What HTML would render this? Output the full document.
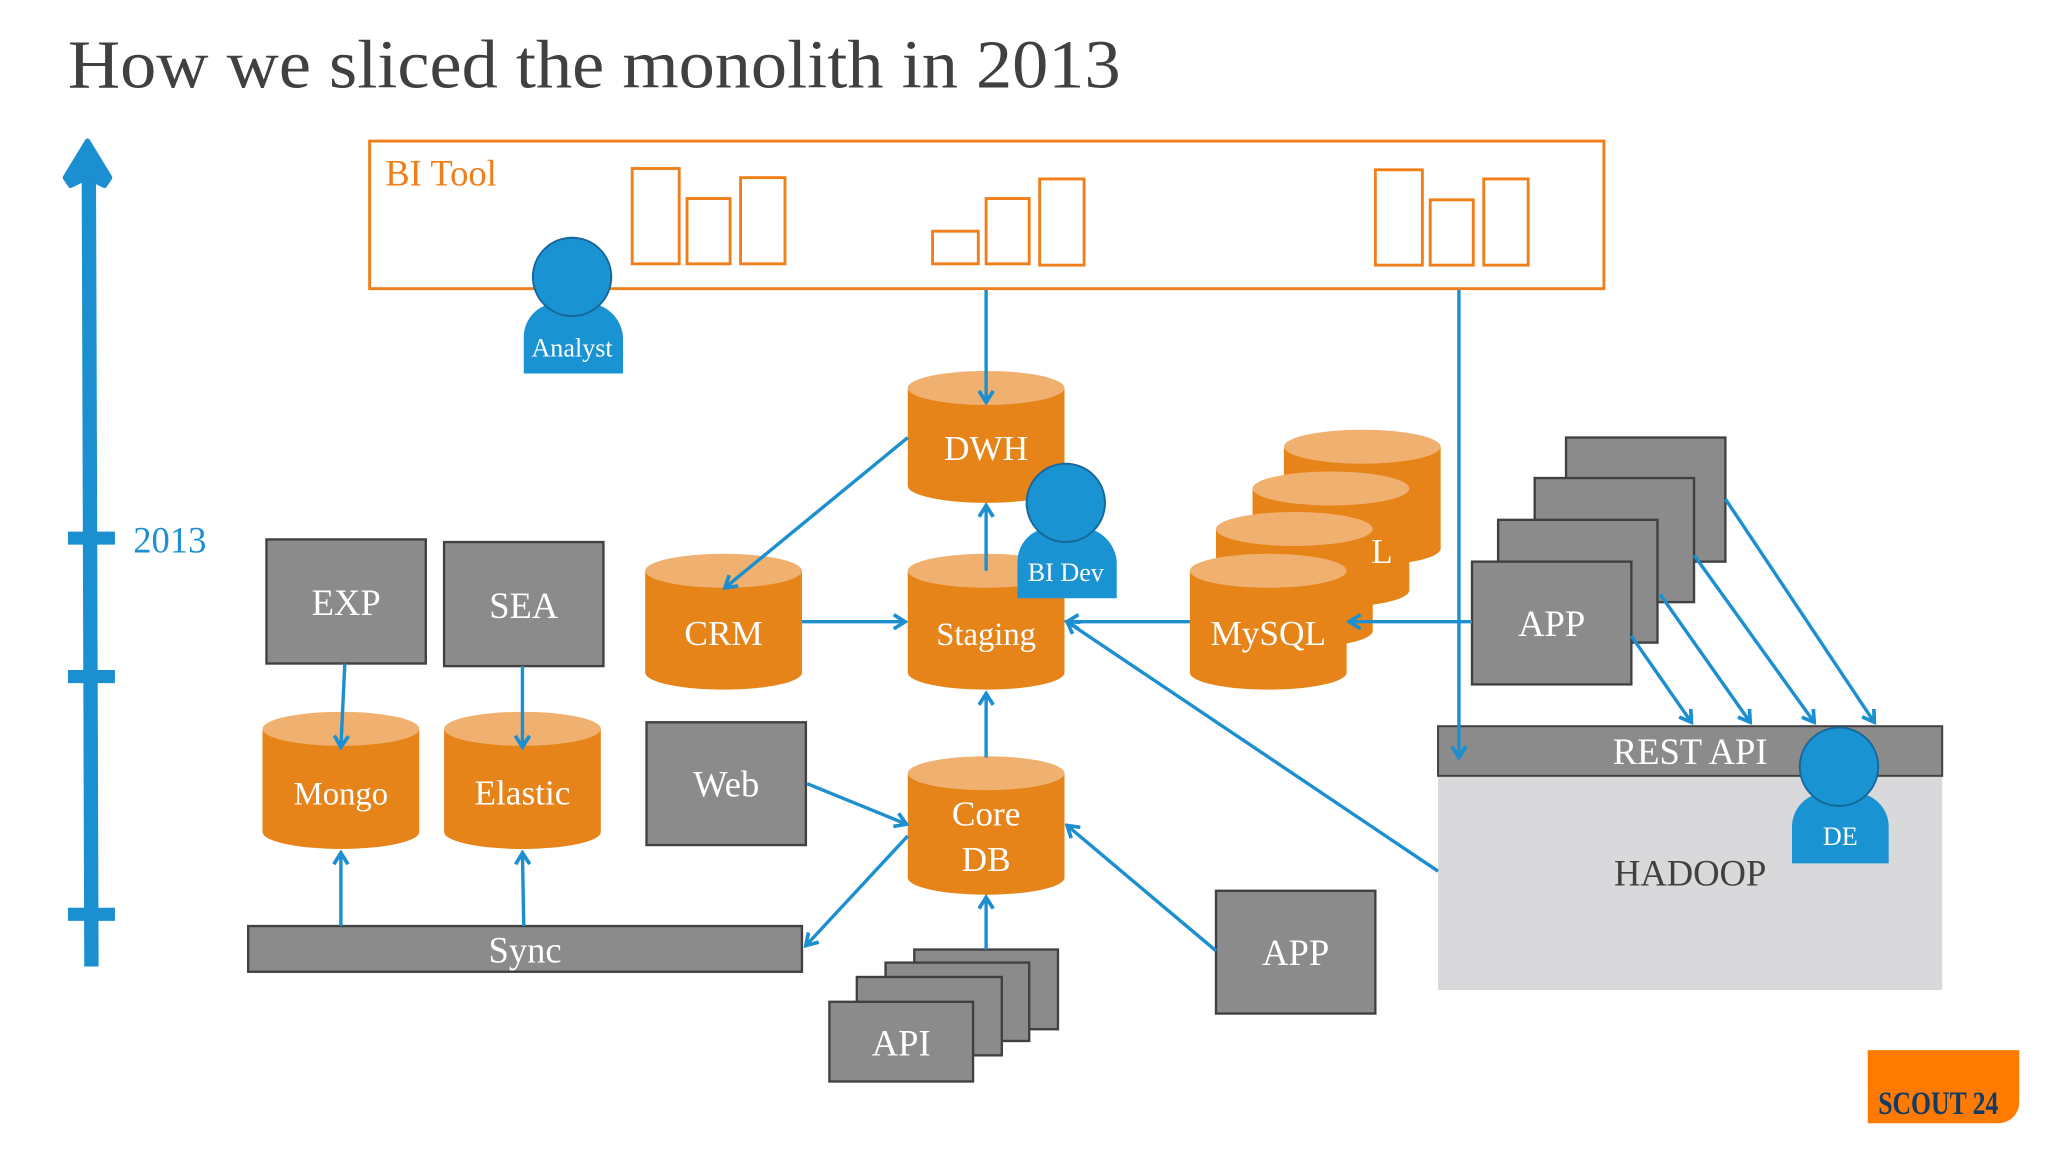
<!DOCTYPE html>
<html><head><meta charset="utf-8"><style>
html,body{margin:0;padding:0;background:#fff;}
svg{display:block;}
text{font-family:"Liberation Serif",serif;}
</style></head><body>
<svg width="2048" height="1152" viewBox="0 0 1568 882" xmlns="http://www.w3.org/2000/svg">
<defs>
<marker id="a" viewBox="0 0 12 12" refX="10" refY="6" markerWidth="5" markerHeight="5" markerUnits="strokeWidth" orient="auto">
<polyline points="2,1 10,6 2,11" fill="none" stroke="#1B8FD0" stroke-width="2.6"/>
</marker>
</defs>
<rect width="1568" height="882" fill="#fff"/>
<text x="52" y="67" font-size="53" fill="#404040" textLength="806" lengthAdjust="spacingAndGlyphs">How we sliced the monolith in 2013</text>

<!-- timeline -->
<g fill="#1B8FD0" stroke="#1B8FD0">
<line x1="68" y1="125" x2="70" y2="740" stroke-width="11"/>
<polygon points="67,108 84,136 80,142 72,138 62,138 54,142 50,136" stroke-width="4" stroke-linejoin="round"/>
<line x1="52" y1="412" x2="88" y2="412" stroke-width="10"/>
<line x1="52" y1="518" x2="88" y2="518" stroke-width="10"/>
<line x1="52" y1="700" x2="88" y2="700" stroke-width="10"/>
</g>
<text x="102" y="423" font-size="28" fill="#1B8FD0">2013</text>

<!-- BI Tool -->
<g fill="none" stroke="#F07F1A" stroke-width="2.2">
<rect x="283" y="108" width="945" height="113"/>
<rect x="484" y="129" width="36" height="73"/><rect x="526" y="152" width="33" height="50"/><rect x="567" y="136" width="34" height="66"/>
<rect x="714" y="177" width="35" height="25"/><rect x="755" y="152" width="33" height="50"/><rect x="796" y="137" width="34" height="66"/>
<rect x="1053" y="130" width="36" height="73"/><rect x="1095" y="153" width="33" height="50"/><rect x="1136" y="137" width="34" height="66"/>
</g>
<text x="295" y="142" font-size="28" fill="#F07F1A">BI Tool</text>

<!-- HADOOP -->
<rect x="1101" y="556" width="386" height="202" fill="#D9D8DA"/>
<rect x="1101" y="556" width="386" height="38" fill="#8C8B8C" stroke="#404040" stroke-width="1.5"/>
<text x="1294" y="585" font-size="28" fill="#fff" text-anchor="middle">REST API</text>
<text x="1294" y="678" font-size="28" fill="#404040" text-anchor="middle">HADOOP</text>

<!-- cylinders -->
<g font-size="27" fill="#fff" text-anchor="middle">
<g>
<path d="M983,342 v78 a60,13 0 0 0 120,0 v-78z" fill="#E6841A"/><ellipse cx="1043" cy="342" rx="60" ry="13" fill="#F0B170"/>
<path d="M959,374 v78 a60,13 0 0 0 120,0 v-78z" fill="#E6841A"/><ellipse cx="1019" cy="374" rx="60" ry="13" fill="#F0B170"/>
<path d="M931,405 v78 a60,13 0 0 0 120,0 v-78z" fill="#E6841A"/><ellipse cx="991" cy="405" rx="60" ry="13" fill="#F0B170"/>
<text x="1058" y="431">L</text>
<path d="M911,437 v78 a60,13 0 0 0 120,0 v-78z" fill="#E6841A"/><ellipse cx="971" cy="437" rx="60" ry="13" fill="#F0B170"/>
<text x="971" y="494">MySQL</text>
</g>
<path d="M695,297 v75 a60,13 0 0 0 120,0 v-75z" fill="#E6841A"/><ellipse cx="755" cy="297" rx="60" ry="13" fill="#F0B170"/><text x="755" y="352">DWH</text>
<path d="M494,437 v78 a60,13 0 0 0 120,0 v-78z" fill="#E6841A"/><ellipse cx="554" cy="437" rx="60" ry="13" fill="#F0B170"/><text x="554" y="494">CRM</text>
<path d="M695,437 v78 a60,13 0 0 0 120,0 v-78z" fill="#E6841A"/><ellipse cx="755" cy="437" rx="60" ry="13" fill="#F0B170"/><text x="755" y="494" font-size="25">Staging</text>
<path d="M201,558 v79 a60,13 0 0 0 120,0 v-79z" fill="#E6841A"/><ellipse cx="261" cy="558" rx="60" ry="13" fill="#F0B170"/><text x="261" y="616" font-size="25">Mongo</text>
<path d="M340,558 v79 a60,13 0 0 0 120,0 v-79z" fill="#E6841A"/><ellipse cx="400" cy="558" rx="60" ry="13" fill="#F0B170"/><text x="400" y="616">Elastic</text>
<path d="M695,592 v80 a60,13 0 0 0 120,0 v-80z" fill="#E6841A"/><ellipse cx="755" cy="592" rx="60" ry="13" fill="#F0B170"/><text x="755" y="632">Core</text><text x="755" y="667">DB</text>
</g>

<!-- gray boxes -->
<g fill="#8C8B8C" stroke="#404040" stroke-width="1.8">
<rect x="204" y="413" width="122" height="95"/>
<rect x="340" y="415" width="122" height="95"/>
<rect x="495" y="553" width="122" height="94"/>
<rect x="931" y="682" width="122" height="94"/>
<rect x="190" y="709" width="424" height="35"/>
<rect x="700" y="727" width="110" height="61"/>
<rect x="678" y="737" width="110" height="60"/>
<rect x="656" y="748" width="111" height="60"/>
<rect x="635" y="767" width="110" height="61"/>
<rect x="1199" y="335" width="122" height="95"/>
<rect x="1175" y="366" width="122" height="95"/>
<rect x="1147" y="398" width="122" height="94"/>
<rect x="1127" y="430" width="122" height="94"/>
</g>
<g font-size="28" fill="#fff" text-anchor="middle">
<text x="265" y="471">EXP</text>
<text x="401" y="473">SEA</text>
<text x="556" y="610">Web</text>
<text x="992" y="739">APP</text>
<text x="402" y="737">Sync</text>
<text x="690" y="808">API</text>
<text x="1188" y="487">APP</text>
</g>

<!-- arrows -->
<g stroke="#1B8FD0" stroke-width="2.6" fill="none" marker-end="url(#a)">
<line x1="755" y1="222" x2="755" y2="308"/>
<line x1="1117" y1="222" x2="1117" y2="580"/>
<line x1="695" y1="335" x2="555" y2="450"/>
<line x1="614" y1="476" x2="693" y2="476"/>
<line x1="755" y1="437" x2="755" y2="387"/>
<line x1="755" y1="580" x2="755" y2="531"/>
<line x1="911" y1="476" x2="817" y2="476"/>
<line x1="1127" y1="476" x2="1033" y2="476"/>
<line x1="1101" y1="667" x2="817" y2="476"/>
<line x1="618" y1="600" x2="694" y2="631"/>
<line x1="695" y1="640" x2="617" y2="724"/>
<line x1="931" y1="728" x2="817" y2="632"/>
<line x1="755" y1="727" x2="755" y2="687"/>
<line x1="264" y1="508" x2="261" y2="572"/>
<line x1="400" y1="510" x2="400" y2="572"/>
<line x1="261" y1="709" x2="261" y2="653"/>
<line x1="401" y1="709" x2="400" y2="653"/>
<line x1="1249" y1="487" x2="1295" y2="553"/>
<line x1="1271" y1="455" x2="1340" y2="553"/>
<line x1="1297" y1="425" x2="1389" y2="553"/>
<line x1="1321" y1="382" x2="1435" y2="553"/>
</g>

<!-- persons -->
<g fill="#1A93D2" stroke="#15679A" stroke-width="1.5">
<path d="M401,286 v-28 a26,26 0 0 1 26,-26 h22 a28,28 0 0 1 28,26 v28z" stroke="none"/>
<circle cx="438" cy="212" r="30"/>
<path d="M779,458 v-28 a26,26 0 0 1 26,-26 h22 a28,28 0 0 1 28,26 v28z" stroke="none"/>
<circle cx="816" cy="385" r="30"/>
<path d="M1372,661 v-28 a26,26 0 0 1 26,-26 h22 a26,26 0 0 1 26,26 v28z" stroke="none"/>
<circle cx="1408" cy="587" r="30"/>
</g>
<g fill="#fff" text-anchor="middle" font-size="20">
<text x="438" y="273">Analyst</text>
<text x="816" y="445">BI Dev</text>
<text x="1409" y="647">DE</text>
</g>

<!-- logo -->
<path d="M1430,804 h116 v40 a16,16 0 0 1 -16,16 h-100z" fill="#FF7A00"/>
<text x="1484" y="853" font-family="Liberation Sans Narrow, Liberation Sans, sans-serif" font-weight="bold" font-size="25" fill="#123A66" text-anchor="middle" textLength="92" lengthAdjust="spacingAndGlyphs">SCOUT 24</text>
</svg>
</body></html>
